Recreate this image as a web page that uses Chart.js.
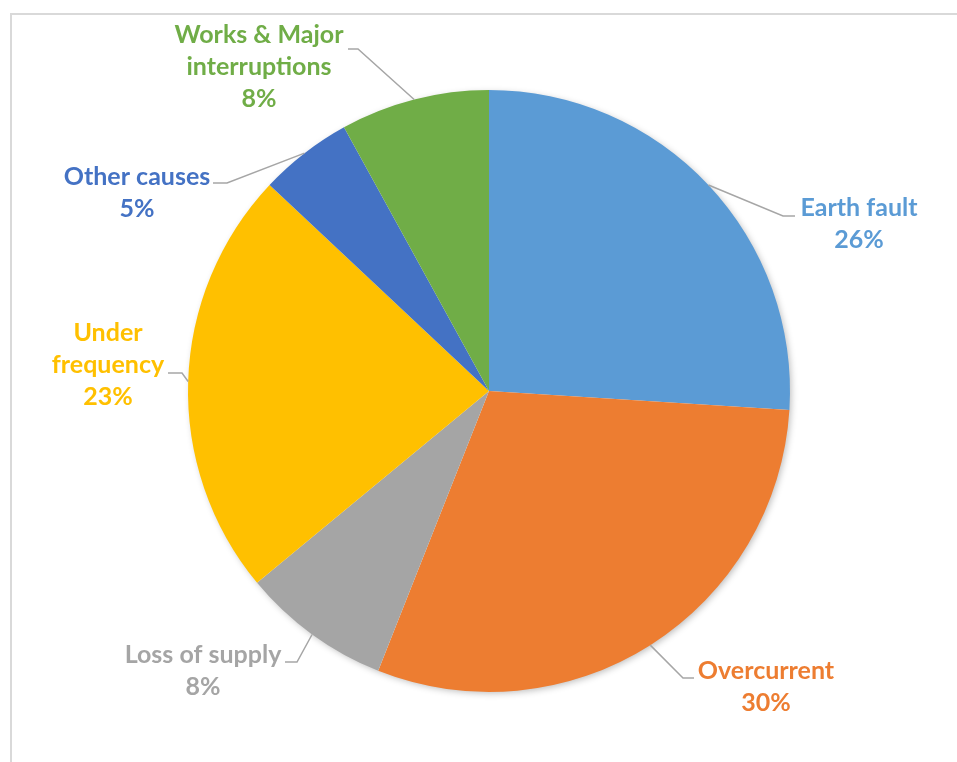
<!DOCTYPE html>
<html>
<head>
<meta charset="utf-8">
<script src="https://cdn.jsdelivr.net/npm/chart.js@4"></script>
<style>
  html, body { margin:0; padding:0; background:#fff; }
  #wrap { position:relative; width:957px; height:762px; }
  #frame { position:absolute; left:10px; top:13px; width:1000px; height:800px; border-top:2px solid #d9d9d9; border-left:2px solid #d9d9d9; }
  canvas { position:absolute; left:0; top:0; }
</style>
</head>
<body>
<div id="wrap">
  <div id="frame"></div>
  <canvas id="chartCausas" width="957" height="762"></canvas>
</div>
<script>
// ---------------- Datos ----------------
const causas = ['Earth fault', 'Overcurrent', 'Loss of supply', 'Under frequency', 'Other causes', 'Works & Major interruptions'];
const porcentajes = [26, 30, 8, 23, 5, 8];
const colores = ['#5B9BD5', '#ED7D31', '#A5A5A5', '#FFC000', '#4472C4', '#70AD47'];
// label text split in lines, as in the original
const lineasEtiqueta = [['Earth fault'], ['Overcurrent'], ['Loss of supply'], ['Under', 'frequency'], ['Other causes'], ['Works & Major', 'interruptions']];

// label placement relative to pie centre (px at radius 301): text centre x, first line y, leader elbow, leader end
const posEtiqueta = [
  { tx: 370, ty: -183, ex: 294, ey: -175, fx: 306, fy: -175 },
  { tx: 277, ty: 280, ex: 194, ey: 287, fx: 205, fy: 287 },
  { tx: -286, ty: 264, ex: -192, ey: 271, fx: -204, fy: 271 },
  { tx: -381, ty: -58, ex: -307, ey: -18, fx: -321, fy: -18 },
  { tx: -352, ty: -214, ex: -262, ey: -208, fx: -276, fy: -208 },
  { tx: -230, ty: -356, ex: -131, ey: -342, fx: -141, fy: -342 }
];

const sombra = {
  id: 'sombra',
  beforeDatasetsDraw(chart) {
    const arc = chart.getDatasetMeta(0).data[0];
    const ctx = chart.ctx;
    ctx.save();
    ctx.shadowColor = 'rgba(0,0,0,0.28)';
    ctx.shadowBlur = 7;
    ctx.shadowOffsetX = 2;
    ctx.shadowOffsetY = 2;
    ctx.fillStyle = '#ffffff';
    ctx.beginPath();
    ctx.arc(arc.x, arc.y, arc.outerRadius - 1, 0, Math.PI * 2);
    ctx.fill();
    ctx.restore();
  }
};

const etiquetas = {
  id: 'etiquetas',
  afterDatasetsDraw(chart) {
    const ctx = chart.ctx;
    const total = porcentajes.reduce((a, b) => a + b, 0);
    chart.getDatasetMeta(0).data.forEach((arc, i) => {
      const k = arc.outerRadius / 301;
      const p = posEtiqueta[i];
      const mid = (arc.startAngle + arc.endAngle) / 2;
      const sx = arc.x + Math.cos(mid) * arc.outerRadius;
      const sy = arc.y + Math.sin(mid) * arc.outerRadius;

      ctx.save();
      ctx.strokeStyle = '#a6a6a6';
      ctx.lineWidth = 1.5;
      ctx.beginPath();
      ctx.moveTo(sx, sy);
      ctx.lineTo(arc.x + p.ex * k, arc.y + p.ey * k);
      ctx.lineTo(arc.x + p.fx * k, arc.y + p.fy * k);
      ctx.stroke();

      ctx.fillStyle = colores[i];
      ctx.font = 'bold 25px Lato';
      ctx.textAlign = 'center';
      ctx.textBaseline = 'middle';
      const lineas = lineasEtiqueta[i].concat([Math.round(porcentajes[i] / total * 100) + '%']);
      lineas.forEach((t, j) => {
        ctx.fillText(t, arc.x + p.tx * k, arc.y + (p.ty + j * 32) * k);
      });
      ctx.restore();
    });
  }
};

new Chart(document.getElementById('chartCausas').getContext('2d'), {
  type: 'pie',
  data: {
    labels: causas,
    datasets: [{ data: porcentajes, backgroundColor: colores, borderWidth: 0 }]
  },
  options: {
    responsive: false,
    animation: false,
    layout: { padding: { left: 188, right: 167, top: 90, bottom: 70 } },
    plugins: { legend: { display: false }, tooltip: { enabled: false } }
  },
  plugins: [sombra, etiquetas]
});
</script>
</body>
</html>
